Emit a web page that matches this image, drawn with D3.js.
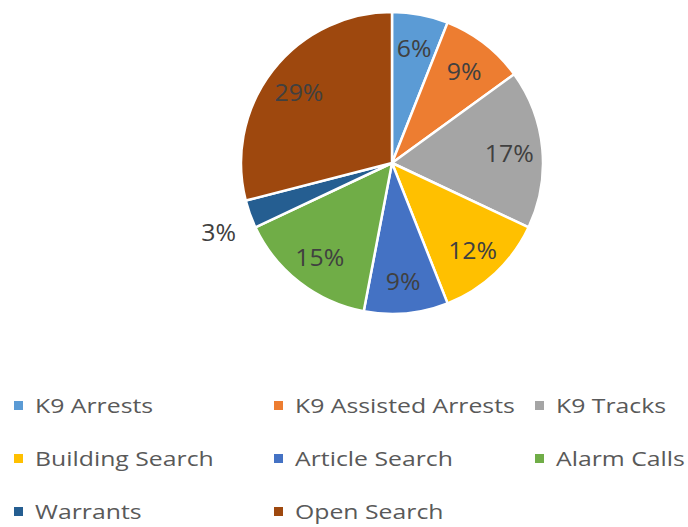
<!DOCTYPE html>
<html lang="en">
<head>
    <meta charset="UTF-8">
    <script src="https://cdn.jsdelivr.net/npm/d3@7"></script>
    <style>
        body { margin: 0; background: #fff; }
        text { font-family: "Open Sans", "Noto Sans", sans-serif; }
    </style>
</head>
<body>
<script>
    // data
    const categories = ["K9 Arrests", "K9 Assisted Arrests", "K9 Tracks", "Building Search",
        "Article Search", "Alarm Calls", "Warrants", "Open Search"];
    const values = [6, 9, 17, 12, 9, 15, 3, 29];
    const colors = ["#5B9BD5", "#ED7D31", "#A5A5A5", "#FFC000", "#4472C4", "#70AD47", "#255E91", "#9E480E"];

    const width = 688, height = 527;
    const cx = 392, cy = 163, radius = 151;

    const svg = d3.select("body").append("svg")
        .attr("width", width)
        .attr("height", height);

    const color = d3.scaleOrdinal().domain(categories).range(colors);

    const pie = d3.pie().sort(null).value(d => d.value);
    const arcs = pie(categories.map((c, i) => ({ name: c, value: values[i] })));

    const arc = d3.arc().innerRadius(0).outerRadius(radius);
    const labelArc = d3.arc().innerRadius(radius * 0.78).outerRadius(radius * 0.78);
    const outerArc = d3.arc().innerRadius(radius * 1.22).outerRadius(radius * 1.22);

    const g = svg.append("g").attr("transform", `translate(${cx},${cy})`);

    g.selectAll("path")
        .data(arcs)
        .enter().append("path")
        .attr("d", arc)
        .attr("fill", d => color(d.data.name))
        .attr("stroke", "#fff")
        .attr("stroke-width", 2.5)
        .attr("stroke-linejoin", "round");

    // percentage labels; small slices go outside
    g.selectAll(".lbl")
        .data(arcs)
        .enter().append("text")
        .attr("class", "lbl")
        .attr("transform", d => {
            const p = d.data.value < 5 ? outerArc.centroid(d) : labelArc.centroid(d);
            const dy = d.data.value < 5 ? 8 : 2;
            return `translate(${p[0]},${p[1] + dy}) scale(1.08,1)`;
        })
        .attr("dy", "0.35em")
        .attr("text-anchor", "middle")
        .attr("font-size", 23)
        .attr("fill", "#404040")
        .text(d => d.data.value + "%");

    // legend, 3 columns
    const colX = [14, 274, 535];
    const rowY = [406, 459, 512];
    const legend = svg.selectAll(".legend")
        .data(categories)
        .enter().append("g")
        .attr("class", "legend")
        .attr("transform", (d, i) => `translate(${colX[i % 3]},${rowY[Math.floor(i / 3)]})`);

    legend.append("rect")
        .attr("x", 0)
        .attr("y", -5)
        .attr("width", 9)
        .attr("height", 9)
        .attr("fill", d => color(d));

    legend.append("text")
        .attr("transform", "translate(21,0) scale(1.24,1)")
        .attr("dy", "0.35em")
        .attr("font-size", 20)
        .attr("fill", "#595959")
        .text(d => d);
</script>
</body>
</html>
